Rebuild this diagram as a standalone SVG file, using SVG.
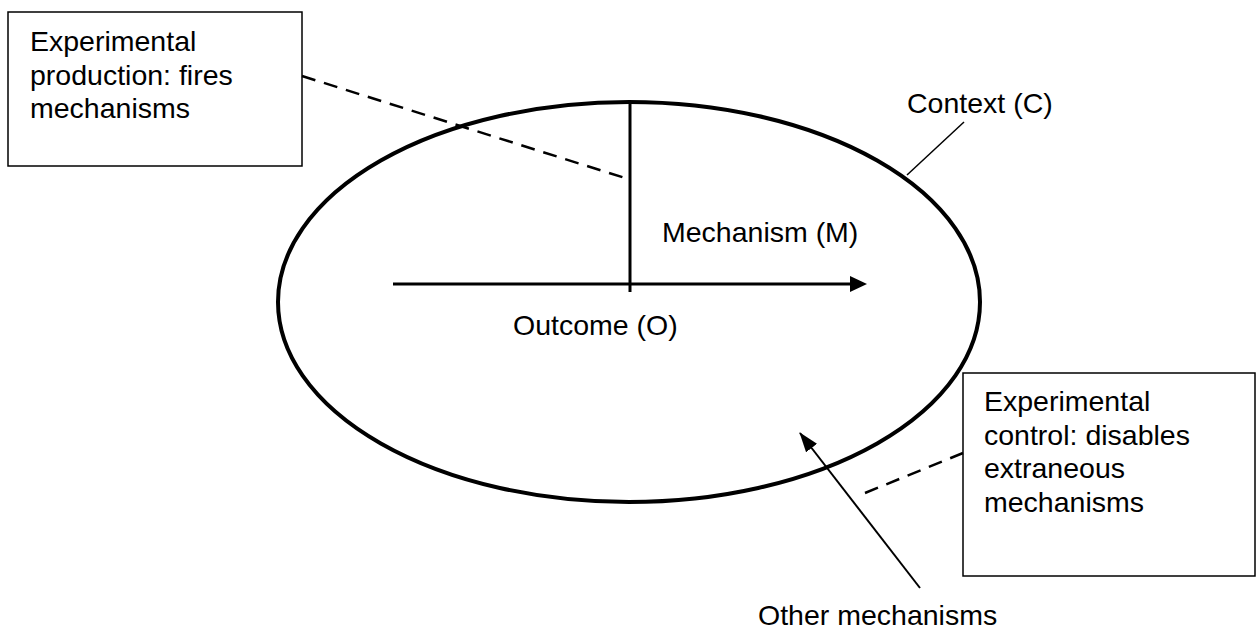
<svg xmlns="http://www.w3.org/2000/svg" width="1257" height="629" viewBox="0 0 1257 629">
<style>
text{font-family:"Liberation Sans",Arial,sans-serif;font-size:28.5px;fill:#000}
.box{fill:#fff;stroke:#000;stroke-width:1.5}
.dash{stroke:#000;stroke-width:2.5;stroke-dasharray:14 9;fill:none}
</style>
<defs>
<marker id="ah2" markerWidth="20" markerHeight="14" refX="19" refY="7" orient="auto" markerUnits="userSpaceOnUse" viewBox="0 0 20 14">
<path d="M0,0 L20,7 L0,14 Z" fill="#000"/>
</marker>
</defs>
<g id="context">
<ellipse cx="629" cy="302" rx="351" ry="200" fill="none" stroke="#000" stroke-width="4"/>
<text x="907" y="113">Context (C)</text>
</g>
<g id="production">
<rect class="box" x="8" y="12" width="294" height="154"/>
<text x="30" y="51">Experimental</text>
<text x="30" y="85">production: fires</text>
<text x="30" y="118">mechanisms</text>
</g>
<g id="control">
<rect class="box" x="963" y="373" width="292" height="203"/>
<text x="984" y="411">Experimental</text>
<text x="984" y="445">control: disables</text>
<text x="984" y="478">extraneous</text>
<text x="984" y="512">mechanisms</text>
</g>
<g id="mechanism">
<text x="662" y="242">Mechanism (M)</text>
</g>
<g id="outcome">
<text x="513" y="335">Outcome (O)</text>
</g>
<g id="other">
<text x="758" y="625">Other mechanisms</text>
</g>
<g id="connectors">
<line x1="630" y1="102" x2="630" y2="292" stroke="#000" stroke-width="3"/>
<line x1="393" y1="284" x2="852" y2="284" stroke="#000" stroke-width="3"/>
<path d="M850,276 L867,284 L850,292 Z" fill="#000"/>
<line class="dash" x1="302" y1="76" x2="625" y2="178"/>
<line class="dash" x1="865" y1="493" x2="963" y2="453"/>
<line x1="907" y1="175" x2="964" y2="122" stroke="#000" stroke-width="1.5"/>
<line x1="920" y1="588" x2="800" y2="433" stroke="#000" stroke-width="2" marker-end="url(#ah2)"/>
</g>
</svg>
